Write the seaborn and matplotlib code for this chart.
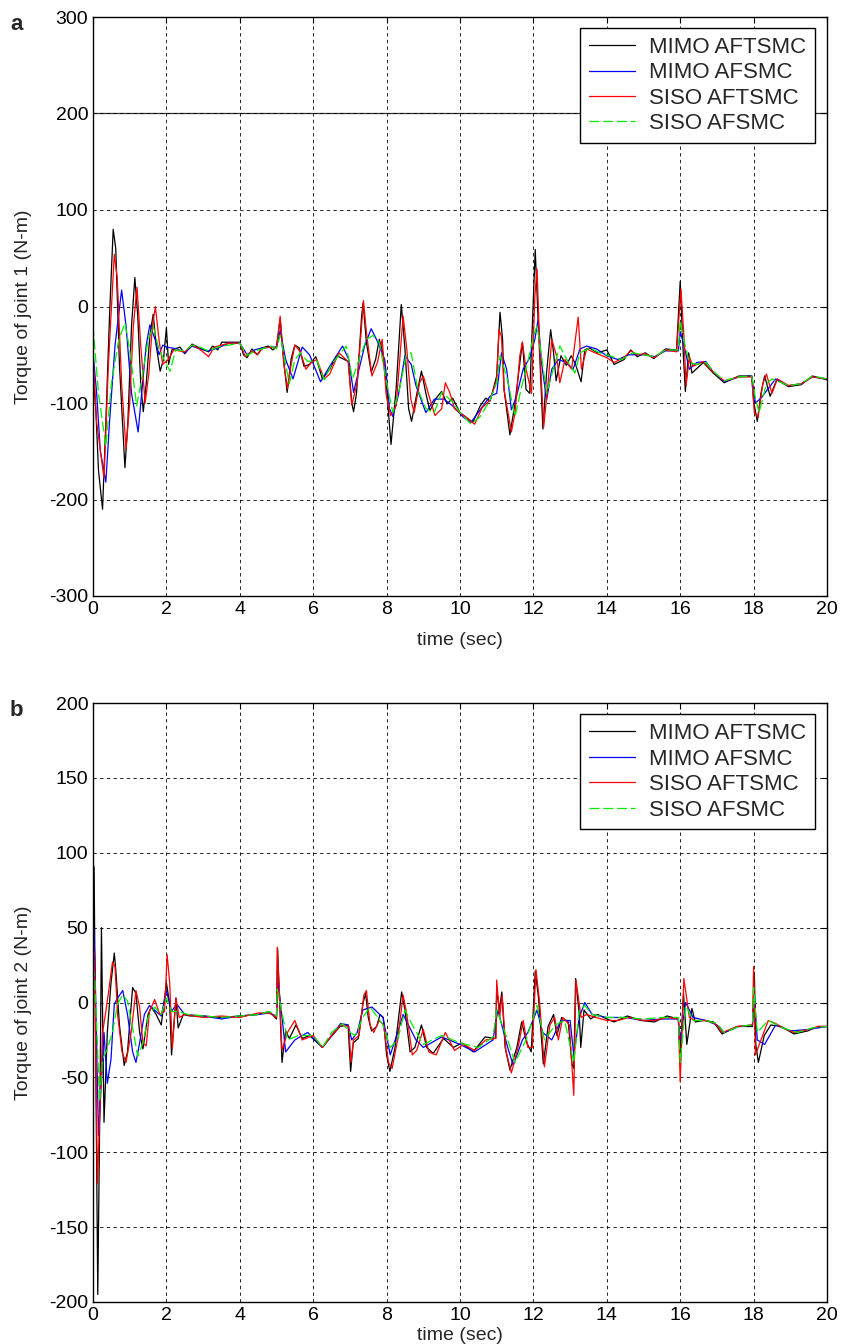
"""Joint torque comparison of MIMO/SISO adaptive sliding-mode controllers."""

import matplotlib

matplotlib.use("Agg")
import matplotlib.pyplot as plt
import pandas as pd
import seaborn as sns

CONTROLLERS = ["MIMO AFTSMC", "MIMO AFSMC", "SISO AFTSMC", "SISO AFSMC"]
COLORS = {"MIMO AFTSMC": "#000000", "MIMO AFSMC": "#0000ff",
          "SISO AFTSMC": "#ff0000", "SISO AFSMC": "#00ee00"}
DASHES = {"MIMO AFTSMC": "", "MIMO AFSMC": "", "SISO AFTSMC": "", "SISO AFSMC": (8, 3)}

X_TICKS = [0, 2, 4, 6, 8, 10, 12, 14, 16, 18, 20]
J1_TICKS = [-300, -200, -100, 0, 100, 200, 300]
J2_TICKS = [-200, -150, -100, -50, 0, 50, 100, 150, 200]

# ---- joint 1 ----
J1_MIMO_AFTSMC_T = [0.0, 0.08, 0.15, 0.26, 0.35, 0.45, 0.55, 0.62, 0.72, 0.87, 0.95, 1.05, 1.14, 1.22,
                    1.3, 1.37, 1.45, 1.55, 1.64, 1.72, 1.83, 1.92, 2.0, 2.06, 2.15, 2.37, 2.5, 2.7, 2.9,
                    3.15, 3.26, 3.4, 3.51, 3.7, 4.0, 4.1, 4.2, 4.33, 4.48, 4.6, 4.78, 4.9, 5.0, 5.1, 5.18,
                    5.29, 5.4, 5.5, 5.62, 5.75, 5.9, 6.07, 6.25, 6.45, 6.64, 6.96, 7.05, 7.1, 7.18, 7.32,
                    7.36, 7.45, 7.58, 7.7, 7.8, 7.9, 8.0, 8.12, 8.26, 8.4, 8.5, 8.6, 8.68, 8.8, 8.95,
                    9.07, 9.18, 9.35, 9.5, 9.65, 9.8, 10.0, 10.35, 10.55, 10.7, 10.82, 11.0, 11.09,
                    11.16, 11.2, 11.36, 11.5, 11.6, 11.7, 11.8, 11.9, 12.0, 12.05, 12.12, 12.26, 12.36,
                    12.47, 12.55, 12.62, 12.75, 12.9, 13.03, 13.15, 13.3, 13.4, 13.53, 13.75, 14.0,
                    14.2, 14.47, 14.65, 14.83, 15.05, 15.28, 15.6, 15.9, 16.0, 16.08, 16.14, 16.23,
                    16.32, 16.63, 16.9, 17.2, 17.6, 17.95, 18.0, 18.1, 18.2, 18.3, 18.45, 18.63, 18.95,
                    19.3, 19.6, 20.0]
J1_MIMO_AFTSMC_Y = [-65, -110, -170, -210, -120, -10, 80, 60, -60, -167, -120, -20, 30, -10,
                    -80, -109, -80, -30, -8, -40, -67, -55, -22, -60, -45, -42, -49, -39, -43,
                    -47, -41, -45, -37, -37, -37, -50, -53, -44, -50, -43, -41, -45, -42, -13, -50,
                    -89, -54, -40, -43, -62, -60, -52, -75, -65, -51, -57, -100, -109, -90, -10,
                    4, -37, -68, -55, -34, -48, -85, -143, -85, 2, -44, -106, -119, -95, -67,
                    -90, -108, -95, -88, -101, -95, -110, -120, -103, -95, -98, -72, -6,
                    -34, -86, -133, -100, -68, -37, -86, -90, 11, 59, -6, -127, -68,
                    -24, -48, -77, -51, -61, -51, -60, -78, -45, -43, -48, -45,
                    -60, -55, -45, -52, -48, -54, -44, -45, 26, -46, -88, -48,
                    -69, -58, -69, -79, -72, -72, -98, -119, -90, -72, -93, -76, -83,
                    -81, -72, -76]

J1_MIMO_AFSMC_T = [0.0, 0.1, 0.2, 0.35, 0.45, 0.6, 0.78, 0.9, 1.05, 1.23, 1.35, 1.45, 1.55, 1.7, 1.8,
                   1.9, 2.0, 2.3, 2.5, 2.7, 2.9, 3.15, 3.4, 3.7, 4.0, 4.2, 4.4, 4.6, 4.85, 5.0, 5.1,
                   5.25, 5.45, 5.7, 5.9, 6.2, 6.45, 6.8, 6.97, 7.1, 7.23, 7.4, 7.58, 7.76, 7.95, 8.08,
                   8.17, 8.32, 8.5, 8.67, 8.8, 9.07, 9.3, 9.56, 9.8, 10.1, 10.3, 10.55, 10.82, 11.0,
                   11.13, 11.27, 11.4, 11.54, 11.72, 11.9, 12.04, 12.13, 12.22, 12.36, 12.5, 12.68,
                   12.9, 13.08, 13.27, 13.45, 13.72, 14.0, 14.3, 14.6, 15.0, 15.3, 15.6, 15.95, 16.0,
                   16.1, 16.25, 16.45, 16.7, 16.9, 17.2, 17.6, 17.95, 18.05, 18.2, 18.4, 18.6, 18.95,
                   19.3, 19.6, 20.0]
J1_MIMO_AFSMC_Y = [-48, -90, -150, -182, -120, -40, 17, -20, -90, -130, -80, -40, -19, -35, -50,
                   -40, -42, -44, -48, -41, -44, -46, -43, -38, -38, -50, -45, -43, -42, -42, -25,
                   -55, -75, -42, -50, -78, -62, -41, -55, -89, -68, -41, -23, -37, -55, -106,
                   -114, -92, -51, -60, -82, -110, -96, -96, -103, -115, -120, -107, -93, -90,
                   -48, -65, -107, -93, -65, -53, -34, -13, -58, -97, -65, -55,
                   -58, -65, -44, -41, -44, -51, -55, -50, -50, -52, -46, -46, -26,
                   -40, -65, -58, -57, -68, -78, -73, -72, -100, -95, -85, -75, -82,
                   -80, -73, -75]

J1_SISO_AFTSMC_T = [0.0, 0.1, 0.3, 0.42, 0.58, 0.66, 0.78, 0.9, 1.0, 1.1, 1.2, 1.3, 1.42, 1.52, 1.62,
                    1.7, 1.8, 1.9, 2.05, 2.2, 2.5, 2.7, 2.9, 3.15, 3.3, 3.5, 3.7, 4.0, 4.15, 4.33, 4.48,
                    4.6, 4.8, 5.0, 5.1, 5.2, 5.3, 5.4, 5.5, 5.65, 5.8, 5.95, 6.1, 6.3, 6.45, 6.7, 6.95,
                    7.05, 7.2, 7.37, 7.45, 7.6, 7.75, 7.88, 7.99, 8.11, 8.26, 8.45, 8.55, 8.66, 8.75,
                    8.9, 9.0, 9.15, 9.32, 9.5, 9.6, 9.72, 9.85, 10.1, 10.4, 10.6, 10.82, 11.0, 11.06,
                    11.13, 11.2, 11.4, 11.5, 11.63, 11.7, 11.8, 11.95, 12.04, 12.1, 12.17, 12.28, 12.4,
                    12.5, 12.63, 12.72, 12.86, 13.04, 13.22, 13.31, 13.45, 13.68, 14.0, 14.2, 14.47,
                    14.65, 14.83, 15.05, 15.28, 15.6, 15.9, 16.02, 16.1, 16.16, 16.25, 16.35, 16.63,
                    16.9, 17.2, 17.6, 17.95, 18.02, 18.12, 18.25, 18.35, 18.5, 18.65, 18.95, 19.3,
                    19.6, 20.0]
J1_SISO_AFTSMC_Y = [-50, -120, -178, -60, 54, 30, -80, -148, -100, -20, 20, -40, -100, -70, -20,
                    0, -35, -60, -55, -45, -47, -40, -44, -52, -42, -40, -38, -38, -52, -46, -50,
                    -44, -42, -43, -10, -60, -85, -60, -40, -47, -65, -58, -55, -75, -70, -48, -57,
                    -102, -79, 6, -27, -72, -58, -34, -92, -113, -103, -10, -44, -96, -110,
                    -79, -72, -92, -113, -106, -79, -89, -106, -113, -122, -105, -97, -76, -24,
                    -31, -86, -130, -110, -51, -37, -65, -90, 11, 39, -41, -125, -79,
                    -34, -51, -79, -55, -65, -11, -65, -44, -48, -53, -58, -53,
                    -46, -50, -49, -53, -45, -47, 18, -30, -82, -52, -62, -57,
                    -68, -77, -73, -73, -110, -115, -80, -70, -90, -75, -82, -80,
                    -73, -75]

J1_SISO_AFSMC_T = [0.0, 0.15, 0.35, 0.5, 0.7, 0.87, 1.0, 1.19, 1.35, 1.5, 1.64, 1.8, 2.1, 2.25, 2.5,
                   2.7, 2.9, 3.15, 3.4, 3.7, 4.0, 4.2, 4.4, 4.6, 4.85, 5.0, 5.1, 5.2, 5.35, 5.5, 5.65,
                   5.85, 6.1, 6.3, 6.5, 6.9, 7.07, 7.25, 7.45, 7.63, 7.8, 8.0, 8.17, 8.35, 8.53, 8.67,
                   8.85, 9.07, 9.3, 9.5, 9.78, 10.0, 10.3, 10.55, 10.82, 11.0, 11.09, 11.27, 11.5,
                   11.68, 11.86, 12.0, 12.1, 12.22, 12.36, 12.54, 12.72, 12.95, 13.13, 13.27, 13.54,
                   13.8, 14.07, 14.4, 14.7, 15.0, 15.3, 15.6, 15.95, 16.0, 16.1, 16.25, 16.45, 16.7,
                   16.9, 17.2, 17.6, 17.95, 18.05, 18.15, 18.35, 18.5, 18.7, 18.95, 19.3, 19.6, 20.0]
J1_SISO_AFSMC_Y = [-20, -90, -145, -80, -35, -17, -45, -103, -70, -35, -20, -45, -67, -45, -46,
                   -40, -42, -46, -42, -40, -38, -51, -46, -44, -41, -44, -30, -50, -80, -55, -48,
                   -57, -56, -76, -60, -41, -75, -55, -34, -30, -37, -79, -110, -86, -51, -48,
                   -86, -106, -110, -89, -98, -110, -122, -114, -97, -79, -51, -72, -114,
                   -83, -55, -31, -20, -51, -90, -65, -41, -58, -69, -48, -43,
                   -48, -51, -55, -48, -50, -52, -45, -45, -15, -35, -58, -60, -58,
                   -67, -77, -73, -72, -95, -110, -80, -75, -78, -82, -80, -72, -75]

# ---- joint 2 ----
J2_MIMO_AFTSMC_T = [0.0, 0.03, 0.13, 0.2, 0.23, 0.3, 0.39, 0.49, 0.58, 0.62, 0.72, 0.85, 0.94, 1.08,
                    1.17, 1.27, 1.36, 1.5, 1.59, 1.72, 1.86, 2.0, 2.09, 2.14, 2.26, 2.32, 2.46, 2.64,
                    3.0, 3.5, 4.0, 4.5, 4.8, 5.0, 5.03, 5.15, 5.25, 5.35, 5.53, 5.7, 5.9, 6.25, 6.45,
                    6.73, 6.95, 7.02, 7.09, 7.23, 7.36, 7.43, 7.5, 7.59, 7.73, 7.82, 7.91, 8.0, 8.09,
                    8.23, 8.41, 8.5, 8.64, 8.77, 8.95, 9.09, 9.27, 9.55, 9.82, 10.05, 10.36, 10.68,
                    10.97, 11.0, 11.07, 11.14, 11.23, 11.36, 11.55, 11.68, 11.82, 11.94, 12.05, 12.14,
                    12.27, 12.4, 12.55, 12.64, 12.77, 12.95, 13.05, 13.1, 13.15, 13.25, 13.29, 13.38,
                    13.56, 13.75, 14.0, 14.2, 14.56, 14.93, 15.3, 15.64, 15.95, 16.0, 16.09, 16.18,
                    16.32, 16.41, 16.64, 16.91, 17.14, 17.55, 17.97, 18.02, 18.06, 18.13, 18.29,
                    18.47, 18.75, 19.1, 19.47, 19.75, 20.0]
J2_MIMO_AFTSMC_Y = [93, 90, -195, -40, 50, -80, -20, 13, 33, 22, -15, -42, -33, 10,
                    6, -20, -31, -8, -3, -8, -15, 13, -1, -35, 3, -17, -8, -9,
                    -9, -10, -9, -8, -6, -11, 36, -40, -19, -24, -15, -24, -22, -30, -24,
                    -16, -15, -46, -27, -24, 0, 6, -10, -19, -16, -8, -10, -35, -46,
                    -30, 7, -5, -33, -30, -15, -30, -34, -24, -30, -27, -33, -23,
                    -24, 9, -5, 7, -30, -45, -30, -13, -27, -33, 21, 3,
                    -41, -16, -8, -22, -10, -13, -41, -44, 16, -8, -30, -5,
                    -11, -8, -11, -13, -9, -12, -13, -9, -11, -36, 6, -28,
                    -4, -13, -12, -13, -21, -16, -16, 20, -28, -40, -22,
                    -15, -16, -21, -19, -16, -16]

J2_MIMO_AFSMC_T = [0.0, 0.05, 0.15, 0.3, 0.39, 0.49, 0.58, 0.67, 0.81, 0.94, 1.08, 1.17, 1.27, 1.4,
                   1.54, 1.72, 1.86, 2.0, 2.14, 2.28, 2.5, 3.0, 3.5, 4.0, 4.5, 4.8, 5.0, 5.05, 5.25,
                   5.5, 5.7, 5.85, 6.25, 6.5, 6.75, 6.95, 7.05, 7.2, 7.35, 7.6, 7.9, 8.1, 8.3, 8.45,
                   8.8, 9.0, 9.5, 10.0, 10.4, 10.9, 11.03, 11.3, 11.45, 11.7, 11.85, 12.1, 12.25,
                   12.5, 12.75, 13.0, 13.1, 13.25, 13.4, 13.6, 14.0, 14.5, 15.0, 15.5, 15.95, 16.0,
                   16.15, 16.35, 16.7, 17.0, 17.2, 17.6, 17.97, 18.02, 18.1, 18.3, 18.6, 19.0, 19.5,
                   20.0]
J2_MIMO_AFSMC_Y = [59, 30, -89, -20, -54, -38, -1, 3, 8, -8, -33, -40, -27, -8,
                   -2, -6, -9, 8, -6, -1, -8, -9, -11, -9, -8, -7, -9, 13, -33,
                   -25, -22, -20, -30, -22, -14, -15, -25, -20, -5, -3, -10, -35, -20, -8,
                   -25, -30, -23, -28, -33, -25, -5, -30, -42, -25, -20, -5, -20,
                   -25, -12, -12, -35, -10, 0, -8, -10, -10, -12, -11, -11, -25,
                   0, -10, -12, -15, -20, -16, -15, 5, -25, -28, -15, -19, -18,
                   -16]

J2_SISO_AFTSMC_T = [0.0, 0.05, 0.12, 0.26, 0.35, 0.44, 0.53, 0.6, 0.67, 0.79, 0.9, 1.04, 1.17, 1.27,
                    1.36, 1.45, 1.54, 1.68, 1.82, 1.95, 2.02, 2.09, 2.16, 2.26, 2.35, 2.5, 3.0, 3.5,
                    4.0, 4.5, 4.8, 5.0, 5.02, 5.15, 5.3, 5.5, 5.7, 6.0, 6.25, 6.5, 6.75, 6.97, 7.03,
                    7.1, 7.25, 7.38, 7.45, 7.55, 7.65, 7.8, 7.92, 8.05, 8.15, 8.3, 8.45, 8.55, 8.7,
                    8.82, 9.0, 9.15, 9.35, 9.6, 9.85, 10.1, 10.4, 10.7, 10.98, 11.0, 11.08, 11.15,
                    11.25, 11.4, 11.6, 11.72, 11.85, 11.97, 12.07, 12.17, 12.3, 12.45, 12.58, 12.68,
                    12.8, 12.98, 13.1, 13.16, 13.3, 13.45, 13.7, 14.0, 14.3, 14.6, 15.0, 15.3, 15.65,
                    15.95, 16.0, 16.1, 16.25, 16.4, 16.7, 16.95, 17.15, 17.55, 17.97, 18.0, 18.05,
                    18.2, 18.4, 18.6, 18.8, 19.1, 19.5, 19.75, 20.0]
J2_SISO_AFTSMC_Y = [45, 20, -121, -20, -6, 10, 27, 24, -8, -33, -40, -20, 8, -3,
                    -27, -29, -6, 2, -8, -6, 32, 13, -31, 3, -10, -8, -10, -9,
                    -10, -7, -7, -10, 37, -32, -20, -12, -25, -22, -30, -22, -15, -16, -40,
                    -25, -22, 5, 8, -15, -20, -12, -15, -40, -44, -25, 5, -8, -35,
                    -32, -18, -33, -35, -20, -32, -28, -32, -25, -24, 15, -10, 5,
                    -32, -47, -28, -12, -30, -30, 22, 0, -43, -15, -10, -25,
                    -10, -15, -62, 15, -10, -8, -10, -12, -12, -10, -12, -12, -10,
                    -11, -53, 16, -10, -12, -12, -14, -20, -16, -15, 24, -35,
                    -25, -12, -14, -17, -20, -18, -16, -16]

J2_SISO_AFSMC_T = [0.0, 0.05, 0.18, 0.26, 0.39, 0.53, 0.67, 0.81, 0.94, 1.08, 1.22, 1.36, 1.5, 1.68,
                   1.86, 2.0, 2.14, 2.3, 2.6, 3.0, 3.5, 4.0, 4.5, 4.8, 5.0, 5.02, 5.3, 5.6, 6.0, 6.25,
                   6.5, 6.8, 7.0, 7.15, 7.35, 7.55, 7.9, 8.1, 8.3, 8.5, 8.7, 9.0, 9.5, 10.0, 10.5,
                   10.9, 11.0, 11.3, 11.5, 11.8, 12.1, 12.3, 12.6, 12.85, 13.1, 13.25, 13.4, 13.6,
                   14.0, 14.5, 15.0, 15.5, 15.95, 16.0, 16.15, 16.35, 16.7, 17.0, 17.2, 17.6, 17.97,
                   18.0, 18.1, 18.4, 18.8, 19.2, 19.6, 20.0]
J2_SISO_AFSMC_Y = [24, 15, -66, -38, -31, -20, -1, 5, 1, -17, -36, -27, -10, -3,
                   -8, 3, -6, -6, -8, -9, -10, -9, -8, -6, -9, 9, -25, -22, -22, -30,
                   -20, -14, -20, -22, -10, -3, -15, -30, -25, -5, -15, -28, -22, -27, -30,
                   -23, -5, -25, -40, -25, -2, -25, -15, -12, -40, -5, -2, -8,
                   -10, -10, -11, -10, -10, -40, -2, -12, -12, -14, -20, -16, -15,
                   10, -20, -12, -17, -20, -17, -16]


def long_frame(series: dict) -> pd.DataFrame:
    parts = [pd.DataFrame({"time": t, "torque": y, "controller": name})
             for name, (t, y) in series.items()]
    return pd.concat(parts, ignore_index=True)


JOINT1 = long_frame({
    "MIMO AFTSMC": (J1_MIMO_AFTSMC_T, J1_MIMO_AFTSMC_Y),
    "MIMO AFSMC": (J1_MIMO_AFSMC_T, J1_MIMO_AFSMC_Y),
    "SISO AFTSMC": (J1_SISO_AFTSMC_T, J1_SISO_AFTSMC_Y),
    "SISO AFSMC": (J1_SISO_AFSMC_T, J1_SISO_AFSMC_Y),
})
JOINT2 = long_frame({
    "MIMO AFTSMC": (J2_MIMO_AFTSMC_T, J2_MIMO_AFTSMC_Y),
    "MIMO AFSMC": (J2_MIMO_AFSMC_T, J2_MIMO_AFSMC_Y),
    "SISO AFTSMC": (J2_SISO_AFTSMC_T, J2_SISO_AFTSMC_Y),
    "SISO AFSMC": (J2_SISO_AFSMC_T, J2_SISO_AFSMC_Y),
})

sns.set_style("white")
plt.rcParams["font.family"] = ["Liberation Sans", "DejaVu Sans"]
plt.rcParams["axes.unicode_minus"] = False

W, H = 841, 1344
fig = plt.figure(figsize=(W / 100, H / 100), dpi=100)


def panel(box, frame, yticks, ylabel, letter, letter_y, xpad):
    left, top, right, bottom = box
    ax = fig.add_axes([left / W, 1 - bottom / H, (right - left) / W, (bottom - top) / H])
    sns.lineplot(data=frame, x="time", y="torque", hue="controller", style="controller",
                 hue_order=CONTROLLERS, style_order=CONTROLLERS, palette=COLORS,
                 dashes=DASHES, estimator=None, sort=False, linewidth=0.9, ax=ax)
    ax.set_xlim(0, 20)
    ax.set_ylim(yticks[0], yticks[-1])
    ax.set_xticks(X_TICKS)
    ax.set_yticks(yticks)
    ax.grid(True, color="black", linestyle=(0, (4, 4)), linewidth=0.6)
    ax.set_axisbelow(True)
    ax.tick_params(direction="in", length=4, width=0.8, labelsize=14,
                   top=True, right=True, colors="black")
    for spine in ax.spines.values():
        spine.set_color("black")
        spine.set_linewidth(1.0)
    ax.set_xlabel("time (sec)", fontsize=14, labelpad=xpad)
    ax.set_ylabel(ylabel, fontsize=14, labelpad=12)
    handles, labels = ax.get_legend_handles_labels()
    ax.legend(handles, labels, loc="upper right", bbox_to_anchor=(0.983, 0.981),
              fontsize=16, frameon=True, fancybox=False, edgecolor="black",
              framealpha=1, borderpad=0.4, labelspacing=0.2, handlelength=2.1,
              handletextpad=0.6, borderaxespad=0)
    ax.get_legend().get_frame().set_linewidth(1.0)
    fig.text(10 / W, 1 - letter_y / H, letter, fontsize=16, fontweight="bold",
             ha="left", va="center")
    return ax


ax1 = panel((93, 17, 827, 596), JOINT1, J1_TICKS, "Torque of joint 1 (N-m)", "a", 24, 10)
ax1.axhline(200, color="#333333", linewidth=0.9, zorder=0.5)
panel((93, 703, 827, 1302), JOINT2, J2_TICKS, "Torque of joint 2 (N-m)", "b", 711, 2)

fig.savefig("out.png", dpi=100)
